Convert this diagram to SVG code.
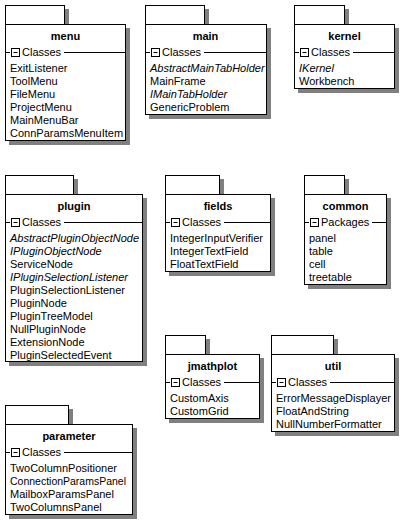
<svg xmlns="http://www.w3.org/2000/svg" width="402" height="520" viewBox="0 0 402 520">
<style>
.sh{fill:#808080;stroke:none}
.bx{fill:#fff;stroke:#000;stroke-width:1}
.ln{fill:none;stroke:#000;stroke-width:1}
text{font-family:"Liberation Sans",Arial,sans-serif;font-size:11px;fill:#000}
.t{font-weight:bold;text-anchor:middle}
.i{font-style:italic}
</style>
<rect width="402" height="520" fill="#fff"/>
<g id="menu">
<rect class="sh" x="9" y="9" width="60" height="19"/><rect class="sh" x="9" y="28" width="121" height="117"/>
<rect class="bx" x="5.5" y="5.5" width="59" height="19"/><rect class="bx" x="5.5" y="24.5" width="120" height="116"/>
<text class="t" x="65.5" y="40">menu</text>
<path class="ln" d="M5 52.5H10M64 52.5H125"/><rect class="bx" x="11.5" y="48.5" width="8" height="8"/><path class="ln" d="M13.5 52.5H17.5"/>
<text x="22" y="56">Classes</text>
<text x="10" y="72">ExitListener</text><text x="10" y="85">ToolMenu</text><text x="10" y="98">FileMenu</text><text x="10" y="111">ProjectMenu</text><text x="10" y="124">MainMenuBar</text><text x="10" y="137">ConnParamsMenuItem</text>
</g>
<g id="main">
<rect class="sh" x="149" y="9" width="60" height="19"/><rect class="sh" x="149" y="28" width="122" height="91"/>
<rect class="bx" x="145.5" y="5.5" width="59" height="19"/><rect class="bx" x="145.5" y="24.5" width="121" height="90"/>
<text class="t" x="205.5" y="40">main</text>
<path class="ln" d="M145 52.5H150M204 52.5H266"/><rect class="bx" x="151.5" y="48.5" width="8" height="8"/><path class="ln" d="M153.5 52.5H157.5"/>
<text x="162" y="56">Classes</text>
<text class="i" x="150" y="72">AbstractMainTabHolder</text><text x="150" y="85">MainFrame</text><text class="i" x="150" y="98">IMainTabHolder</text><text x="150" y="111">GenericProblem</text>
</g>
<g id="kernel">
<rect class="sh" x="298" y="9" width="51" height="19"/><rect class="sh" x="298" y="28" width="101" height="65"/>
<rect class="bx" x="294.5" y="5.5" width="50" height="19"/><rect class="bx" x="294.5" y="24.5" width="100" height="64"/>
<text class="t" x="344.5" y="40">kernel</text>
<path class="ln" d="M294 52.5H299M353 52.5H394"/><rect class="bx" x="300.5" y="48.5" width="8" height="8"/><path class="ln" d="M302.5 52.5H306.5"/>
<text x="311" y="56">Classes</text>
<text class="i" x="299" y="72">IKernel</text><text x="299" y="85">Workbench</text>
</g>
<g id="plugin">
<rect class="sh" x="9" y="179" width="69" height="19"/><rect class="sh" x="9" y="198" width="138" height="168"/>
<rect class="bx" x="5.5" y="175.5" width="68" height="19"/><rect class="bx" x="5.5" y="194.5" width="137" height="167"/>
<text class="t" x="74" y="210">plugin</text>
<path class="ln" d="M5 222.5H10M64 222.5H142"/><rect class="bx" x="11.5" y="218.5" width="8" height="8"/><path class="ln" d="M13.5 222.5H17.5"/>
<text x="22" y="226">Classes</text>
<text class="i" x="10" y="242">AbstractPluginObjectNode</text><text class="i" x="10" y="255">IPluginObjectNode</text><text x="10" y="268">ServiceNode</text><text class="i" x="10" y="281">IPluginSelectionListener</text><text x="10" y="294">PluginSelectionListener</text><text x="10" y="307">PluginNode</text><text x="10" y="320">PluginTreeModel</text><text x="10" y="333">NullPluginNode</text><text x="10" y="346">ExtensionNode</text><text x="10" y="359">PluginSelectedEvent</text>
</g>
<g id="fields">
<rect class="sh" x="169" y="179" width="55" height="19"/><rect class="sh" x="169" y="198" width="106" height="78"/>
<rect class="bx" x="165.5" y="175.5" width="54" height="19"/><rect class="bx" x="165.5" y="194.5" width="105" height="77"/>
<text class="t" x="218" y="210">fields</text>
<path class="ln" d="M165 222.5H170M224 222.5H270"/><rect class="bx" x="171.5" y="218.5" width="8" height="8"/><path class="ln" d="M173.5 222.5H177.5"/>
<text x="182" y="226">Classes</text>
<text x="170" y="242">IntegerInputVerifier</text><text x="170" y="255">IntegerTextField</text><text x="170" y="268">FloatTextField</text>
</g>
<g id="common">
<rect class="sh" x="308" y="179" width="41" height="19"/><rect class="sh" x="308" y="198" width="83" height="91"/>
<rect class="bx" x="304.5" y="175.5" width="40" height="19"/><rect class="bx" x="304.5" y="194.5" width="82" height="90"/>
<text class="t" x="345.5" y="210">common</text>
<path class="ln" d="M304 222.5H309M372 222.5H386"/><rect class="bx" x="310.5" y="218.5" width="8" height="8"/><path class="ln" d="M312.5 222.5H316.5"/>
<text x="321" y="226">Packages</text>
<text x="309" y="242">panel</text><text x="309" y="255">table</text><text x="309" y="268">cell</text><text x="309" y="281">treetable</text>
</g>
<g id="jmathplot">
<rect class="sh" x="169" y="339" width="41" height="19"/><rect class="sh" x="169" y="358" width="95" height="65"/>
<rect class="bx" x="165.5" y="335.5" width="40" height="19"/><rect class="bx" x="165.5" y="354.5" width="94" height="64"/>
<text class="t" x="212.5" y="370">jmathplot</text>
<path class="ln" d="M165 382.5H170M224 382.5H259"/><rect class="bx" x="171.5" y="378.5" width="8" height="8"/><path class="ln" d="M173.5 382.5H177.5"/>
<text x="182" y="386">Classes</text>
<text x="170" y="402">CustomAxis</text><text x="170" y="415">CustomGrid</text>
</g>
<g id="util">
<rect class="sh" x="275" y="339" width="63" height="19"/><rect class="sh" x="275" y="358" width="124" height="78"/>
<rect class="bx" x="271.5" y="335.5" width="62" height="19"/><rect class="bx" x="271.5" y="354.5" width="123" height="77"/>
<text class="t" x="333" y="370">util</text>
<path class="ln" d="M271 382.5H276M330 382.5H394"/><rect class="bx" x="277.5" y="378.5" width="8" height="8"/><path class="ln" d="M279.5 382.5H283.5"/>
<text x="288" y="386">Classes</text>
<text x="276" y="402">ErrorMessageDisplayer</text><text x="276" y="415">FloatAndString</text><text x="276" y="428">NullNumberFormatter</text>
</g>
<g id="parameter">
<rect class="sh" x="9" y="409" width="64" height="19"/><rect class="sh" x="9" y="428" width="128" height="91"/>
<rect class="bx" x="5.5" y="405.5" width="63" height="19"/><rect class="bx" x="5.5" y="424.5" width="127" height="90"/>
<text class="t" x="69" y="440">parameter</text>
<path class="ln" d="M5 452.5H10M64 452.5H132"/><rect class="bx" x="11.5" y="448.5" width="8" height="8"/><path class="ln" d="M13.5 452.5H17.5"/>
<text x="22" y="456">Classes</text>
<text x="10" y="472">TwoColumnPositioner</text><text x="10" y="485" textLength="116" lengthAdjust="spacingAndGlyphs">ConnectionParamsPanel</text><text x="10" y="498">MailboxParamsPanel</text><text x="10" y="511">TwoColumnsPanel</text>
</g>
<g id="connectors"/>
</svg>
